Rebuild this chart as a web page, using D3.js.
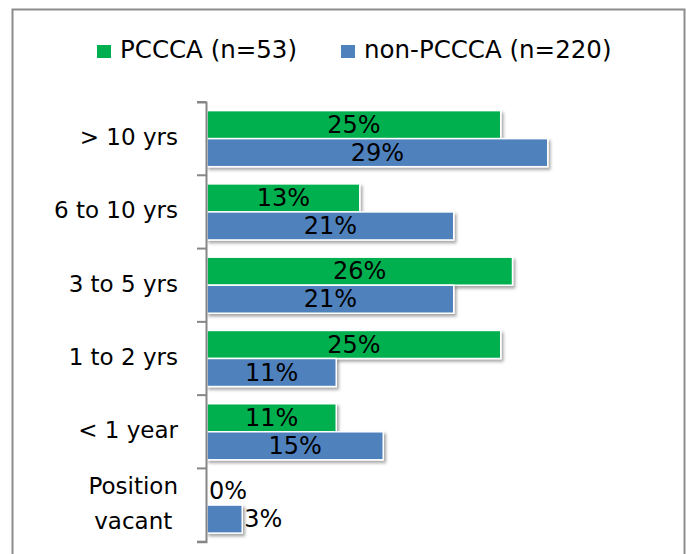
<!DOCTYPE html>
<html><head><meta charset="utf-8">
<script src="https://cdn.jsdelivr.net/npm/d3@7"></script>
<style>html,body{margin:0;padding:0;background:#fff;}svg{display:block;}</style>
</head><body>
<script>
const categories = ["> 10 yrs", "6 to 10 yrs", "3 to 5 yrs", "1 to 2 yrs", "< 1 year", "Position\nvacant"];
const seriesNames = ["PCCCA (n=53)", "non-PCCCA (n=220)"];
const pcccaValues = [25, 13, 26, 25, 11, 0];
const nonPcccaValues = [29, 21, 21, 11, 15, 3];
const seriesColors = ["#00B050", "#4F81BD"];

const W = 686, H = 554;
const FONT = "'DejaVu Sans', 'Noto Sans', sans-serif";
const svg = d3.select("body").append("svg").attr("width", W).attr("height", H);

const defs = svg.append("defs");
const f = defs.append("filter").attr("id", "sh").attr("x", "-10%").attr("y", "-30%").attr("width", "130%").attr("height", "180%");
f.append("feDropShadow").attr("dx", 2).attr("dy", 2.5).attr("stdDeviation", 1.5).attr("flood-color", "#000").attr("flood-opacity", 0.35);

// border
svg.append("rect").attr("x", 12.5).attr("y", 9.5).attr("width", 672).attr("height", 560)
  .attr("fill", "#fff").attr("stroke", "#8c8c8c").attr("stroke-width", 2);

const series = seriesNames.map((n, i) => ({name: n, values: i === 0 ? pcccaValues : nonPcccaValues, color: seriesColors[i]}));

const x = d3.scaleLinear().domain([0, 30]).range([207, 207 + 352.5]);
const y0 = d3.scaleBand().domain(categories).range([102, 541.7]).padding(0);
const y1 = d3.scaleBand().domain(seriesNames).range([8.6, y0.bandwidth() - 8.6]).padding(0);

// bars
const groups = svg.append("g").selectAll("g").data(categories).join("g")
  .attr("transform", d => `translate(0,${y0(d)})`);

series.forEach(s => {
  groups.append("rect")
    .attr("x", x(0))
    .attr("y", y1(s.name))
    .attr("width", (d, i) => x(s.values[i]) - x(0))
    .attr("height", y1.bandwidth())
    .attr("fill", s.color)
    .attr("stroke", "#fff").attr("stroke-width", 1.5)
    .attr("filter", (d, i) => s.values[i] > 0 ? "url(#sh)" : null);
});

// value labels
series.forEach(s => {
  groups.append("text")
    .attr("font-family", FONT).attr("font-size", 24).attr("fill", "#000")
    .attr("y", y1(s.name) + y1.bandwidth() / 2)
    .attr("dy", "0.34em")
    .text((d, i) => s.values[i] + "%")
    .each(function(d, i) {
      const v = s.values[i];
      const w = x(v) - x(0);
      const tw = this.getComputedTextLength();
      if (w > tw + 6) {
        d3.select(this).attr("x", x(0) + w / 2).attr("text-anchor", "middle");
      } else {
        d3.select(this).attr("x", x(v) + 2).attr("text-anchor", "start");
      }
    });
});

// axis
const axis = d3.axisLeft(y0).tickSize(9).tickFormat("").tickSizeOuter(9);
const ag = svg.append("g").attr("transform", `translate(${x(0) - 1},0)`).call(axis);
ag.selectAll("path, line").attr("stroke", "#868686").attr("stroke-width", 2);
ag.selectAll(".tick").remove();
const bounds = categories.map(c => y0(c)).concat([y0(categories[categories.length - 1]) + y0.bandwidth()]);
ag.selectAll("line.b").data(bounds).join("line").attr("class", "b")
  .attr("x1", -9).attr("x2", 0).attr("y1", d => d).attr("y2", d => d)
  .attr("stroke", "#868686").attr("stroke-width", 2);

// category labels
const labelRight = 178;
categories.forEach(c => {
  const lines = c.split("\n");
  const cy = y0(c) + y0.bandwidth() / 2;
  const lh = 35;
  const t = svg.append("text").attr("font-family", FONT).attr("font-size", 23).attr("fill", "#000");
  lines.forEach((ln, j) => {
    t.append("tspan").attr("y", cy + (j - (lines.length - 1) / 2) * lh).attr("dy", "0.28em").text(ln);
  });
  if (lines.length === 1) {
    t.attr("text-anchor", "end").selectAll("tspan").attr("x", labelRight);
  } else {
    let maxW = 0;
    t.selectAll("tspan").each(function() { maxW = Math.max(maxW, this.getComputedTextLength()); });
    t.attr("text-anchor", "middle").selectAll("tspan").attr("x", labelRight - maxW / 2);
  }
});

// legend
const legend = svg.append("g");
let lx = 97;
series.forEach((s, i) => {
  legend.append("rect").attr("x", lx).attr("y", 45).attr("width", 14).attr("height", 13).attr("fill", s.color);
  const t = legend.append("text").attr("x", lx + 23).attr("y", 57.5)
    .attr("font-family", FONT).attr("font-size", 24.5).attr("fill", "#000").text(s.name);
  lx = lx + 23 + t.node().getComputedTextLength() + 44;
});
</script>
</body></html>
